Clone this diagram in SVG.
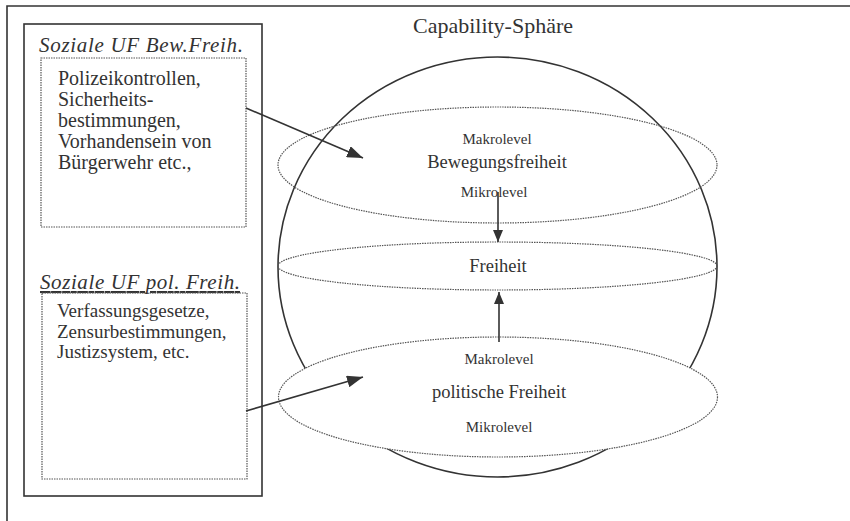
<svg xmlns="http://www.w3.org/2000/svg" width="850" height="521" viewBox="0 0 850 521">
<defs>
<style>
text{font-family:"Liberation Serif","Times New Roman",serif;fill:#333}
.title{font-style:italic;font-size:21px}
.body{font-size:20px}
.body2{font-size:19px}
.lvl{font-size:15px;text-anchor:middle}
.mid{font-size:18.5px;text-anchor:middle}
.solid{fill:none;stroke:#333;stroke-width:1.6}
.dot{fill:none;stroke:#555;stroke-width:1.2;stroke-dasharray:1.5 1}
.conn{stroke:#333;stroke-width:1.6;fill:none}
</style>
<marker id="ah" viewBox="0 0 12 10" refX="12" refY="5" markerWidth="12" markerHeight="10" markerUnits="userSpaceOnUse" orient="auto">
<path d="M0,0 L12,5 L0,10 Z" fill="#333"/>
</marker>
<marker id="ahL" viewBox="0 0 16 12" refX="16" refY="6" markerWidth="16" markerHeight="12" markerUnits="userSpaceOnUse" orient="auto">
<path d="M0,0 L16,6 L0,12 Z" fill="#333"/>
</marker>
</defs>
<rect width="850" height="521" fill="#fff"/>
<g id="frame">
<path class="solid" d="M7,521 L7,6 L850,6"/>
</g>
<g id="left-panel">
<rect class="solid" x="24" y="24" width="238" height="472"/>
</g>
<g id="uf-bew">
<text class="title" x="39" y="52" textLength="204" lengthAdjust="spacing">Soziale UF Bew.Freih.</text>
<rect class="dot" x="41" y="58" width="205" height="169"/>
<text class="body" x="58" y="85">Polizeikontrollen,</text>
<text class="body" x="58" y="106">Sicherheits-</text>
<text class="body" x="58" y="127">bestimmungen,</text>
<text class="body" x="58" y="148">Vorhandensein von</text>
<text class="body" x="58" y="169">Bürgerwehr etc.,</text>
</g>
<g id="uf-pol">
<text class="title" x="40" y="289" textLength="200" lengthAdjust="spacing" text-decoration="underline">Soziale UF pol. Freih.</text>
<rect class="dot" x="42" y="293" width="205" height="186"/>
<text class="body2" x="57" y="317">Verfassungsgesetze,</text>
<text class="body2" x="57" y="338">Zensurbestimmungen,</text>
<text class="body2" x="57" y="358">Justizsystem, etc.</text>
</g>
<g id="sphere">
<text x="493" y="33" font-size="22" text-anchor="middle">Capability-Sphäre</text>
<ellipse class="solid" cx="497.5" cy="267" rx="219.5" ry="210"/>
</g>
<g id="bewegungsfreiheit">
<ellipse class="dot" cx="497.5" cy="165" rx="219.5" ry="58"/>
<text class="lvl" x="497" y="144">Makrolevel</text>
<text class="mid" x="497" y="168">Bewegungsfreiheit</text>
<text class="lvl" x="494" y="197">Mikrolevel</text>
</g>
<g id="freiheit">
<ellipse class="dot" cx="497.5" cy="266" rx="219.5" ry="24"/>
<text class="mid" x="498" y="272">Freiheit</text>
</g>
<g id="politische-freiheit">
<ellipse class="dot" cx="498" cy="397" rx="219.5" ry="60" style="fill:#fff"/>
<text class="lvl" x="499" y="364">Makrolevel</text>
<text class="mid" x="499" y="398">politische Freiheit</text>
<text class="lvl" x="499" y="432">Mikrolevel</text>
</g>
<g id="connectors">
<line class="conn" x1="246" y1="108" x2="363" y2="158" marker-end="url(#ahL)"/>
<line class="conn" x1="246" y1="411" x2="363" y2="377" marker-end="url(#ahL)"/>
<line class="conn" x1="498" y1="192" x2="498" y2="242" marker-end="url(#ah)"/>
<line class="conn" x1="499" y1="342" x2="499" y2="292" marker-end="url(#ah)"/>
</g>
</svg>
